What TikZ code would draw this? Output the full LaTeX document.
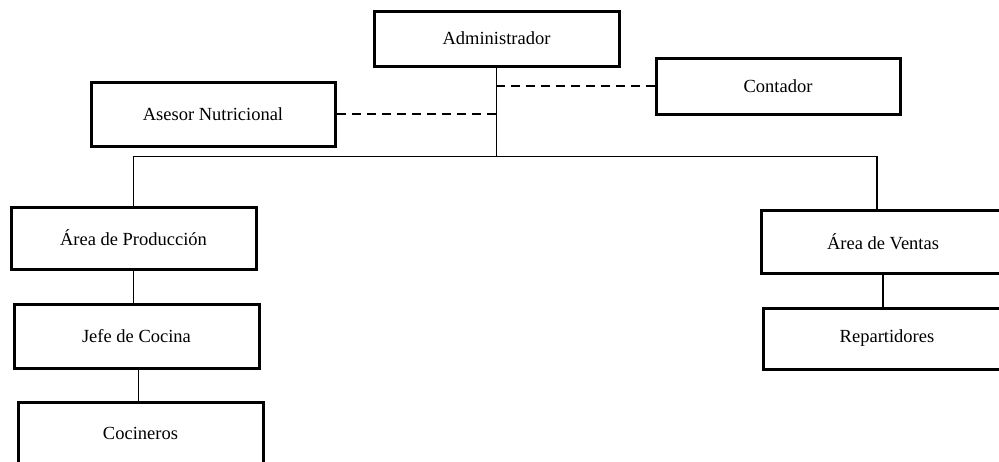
\documentclass[tikz,border=0pt]{standalone}
\usepackage{fontspec}
\setmainfont{Liberation Serif}
\usepackage{tikz}
\usetikzlibrary{positioning, calc}

\begin{document}
\begin{tikzpicture}[x=1pt, y=-1pt,
    orgbox/.style={draw=black, line width=3pt, fill=white, inner sep=0pt, font=\fontsize{18.5}{22}\selectfont},
    orglink/.style={draw=black, line width=1.6pt},
    advlink/.style={draw=black, line width=1.8pt, dash pattern=on 9pt off 6pt}]
  \useasboundingbox (0,0) rectangle (999,461);
  \clip (0,0) rectangle (999,461);

  % Direction
  \node[orgbox, minimum width=245pt, minimum height=55pt] (admin) at (496.5, 38.5) {Administrador};
  \node[orgbox, minimum width=244pt, minimum height=56pt] (contador) at (778, 86) {Contador};
  \node[orgbox, minimum width=244pt, minimum height=64pt] (asesor) at (213, 114) {Asesor Nutricional};

  % Areas
  \node[orgbox, minimum width=245pt, minimum height=62pt] (prod) at (133.5, 238) {Área de Producción};
  \node[orgbox, minimum width=245pt, minimum height=64pt] (jefe) at (136.5, 336) {Jefe de Cocina};
  \node[orgbox, minimum width=245pt, minimum height=62pt] (cocineros) at (140.5, 433) {Cocineros};
  \node[orgbox, minimum width=244pt, minimum height=63pt] (ventas) at (883, 241.5) {Área de Ventas};
  \node[orgbox, minimum width=248pt, minimum height=61pt] (repart) at (887, 338.5) {Repartidores};

  % Lines
  \draw[orglink] (admin.south) -- ++(0, 89) coordinate (hub);
  \draw[orglink] (prod.north) |- (hub) -| ([xshift=-6pt]ventas.north);
  \draw[orglink] (prod.south) -- (prod.south |- jefe.north);
  \draw[orglink] ([xshift=2pt]jefe.south) -- ([xshift=2pt]jefe.south |- cocineros.north);
  \draw[orglink] (ventas.south) -- (ventas.south |- repart.north);

  % Staff
  \draw[advlink] (asesor.east) -- (asesor.east -| admin.south);
  \draw[advlink] (contador.west) -- (contador.west -| admin.south);
\end{tikzpicture}
\end{document}
